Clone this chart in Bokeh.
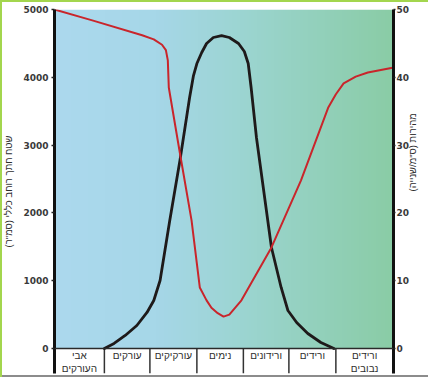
import numpy as np
from math import pi
from bokeh.plotting import figure
from bokeh.models import Range1d, LinearAxis, FixedTicker, Span
from bokeh.core.properties import value
from bokeh.embed import file_html
from bokeh.resources import INLINE

# ---- data ----
categories = ["אבי\nהעורקים", "עורקים", "עורקיקים", "נימים", "ורידונים", "ורידים", "ורידים\nנבובים"]
# category cell edges along the vessel path
cat_edges = [0.0, 1.03, 1.97, 2.94, 3.90, 4.84, 5.81, 7.0]

# flow velocity (cm/s) - red curve, right axis
vel_x = [0.00, 0.78, 1.81, 2.05, 2.22, 2.30, 2.34, 2.36, 2.59, 2.83, 3.00, 3.14, 3.24, 3.37,
         3.49, 3.61, 3.86, 4.48, 5.09, 5.65, 5.81, 5.97, 6.22, 6.47, 6.98]
vel_y = [50.0, 48.4, 46.2, 45.6, 44.8, 44.0, 42.5, 38.5, 28.8, 18.9, 9.0, 7.1, 6.0, 5.2,
         4.7, 5.0, 7.1, 14.9, 24.8, 35.5, 37.5, 39.1, 40.1, 40.7, 41.4]

# total cross-sectional area (cm^2) - black curve, left axis
area_x = [1.03, 1.23, 1.46, 1.70, 1.91, 2.05, 2.18, 2.38, 2.59, 2.79, 2.87, 2.94, 3.04, 3.14,
          3.28, 3.45, 3.61, 3.80, 3.92, 4.00, 4.06, 4.17, 4.48, 4.68, 4.82, 5.00, 5.23, 5.50, 5.77]
area_y = [0, 74, 192, 339, 531, 708, 1003, 1888, 2773, 3702, 4026, 4203, 4366, 4498,
          4587, 4616, 4587, 4498, 4380, 4203, 3850, 3112, 1490, 900, 560, 383, 221, 88, 0]

area_ticks = [0, 1000, 2000, 3000, 4000, 5000]
vel_ticks = [0, 10, 20, 30, 40, 50]
area_title = "שטח חתך רוחב כללי (סמ\"ר)"
vel_title = "מהירות (ס\"מ/שנייה)"

# ---- figure ----
AREA_MIN = -369
p = figure(width=428, height=377, output_backend="svg", toolbar_location=None,
           x_range=Range1d(0, 7), y_range=Range1d(AREA_MIN, 5000),
           x_axis_location=None, y_axis_location=None,
           min_border_left=52, min_border_right=35, min_border_top=9, min_border_bottom=4)
p.extra_y_ranges = {"vel": Range1d(AREA_MIN / 100.0, 50)}
p.xgrid.visible = False
p.ygrid.visible = False
p.outline_line_color = None
p.border_fill_color = None
p.background_fill_color = None
p.styles = {"background-color": "white",
            "box-shadow": "inset 2px 2px 0 #a3d64e, inset 0 -2px 0 #8c8c8c"}

# gradient background (style only)
N = 200
img = np.zeros((1, N), dtype=np.uint32)
view = img.view(dtype=np.uint8).reshape((1, N, 4))
t = np.linspace(0, 1, N)
stops = [0.0, 0.3, 0.55, 1.0]
rs = [172, 166, 156, 138]
gs = [217, 215, 213, 204]
bs = [238, 232, 210, 166]
view[0, :, 0] = np.interp(t, stops, rs).astype(np.uint8)
view[0, :, 1] = np.interp(t, stops, gs).astype(np.uint8)
view[0, :, 2] = np.interp(t, stops, bs).astype(np.uint8)
view[0, :, 3] = 255
p.image_rgba(image=[img], x=0, y=0, dw=7, dh=5000)

# baseline and category dividers
p.add_layout(Span(location=0, dimension="width", line_color="#2a2a2a", line_width=1.5))
p.segment(x0=cat_edges[1:-1], y0=[AREA_MIN] * (len(cat_edges) - 2),
          x1=cat_edges[1:-1], y1=[0] * (len(cat_edges) - 2),
          line_color="#333333", line_width=1.5)

centers = [(a + b) / 2 for a, b in zip(cat_edges[:-1], cat_edges[1:])]
p.text(x=centers, y=[-25] * len(categories), text=categories,
       text_font=value("Liberation Sans"), text_font_size="10px",
       text_align="center", text_baseline="top", text_color="#2e2e2e")

# curves
p.line(area_x, area_y, line_color="#1e1a1a", line_width=2.8, line_join="round", line_cap="round")
p.line(vel_x, vel_y, line_color="#c9252b", line_width=2.0, line_join="round", line_cap="round",
       y_range_name="vel")

# axes
def style_axis(ax, ticks):
    ax.ticker = FixedTicker(ticks=ticks)
    ax.axis_line_width = 3
    ax.axis_line_color = "#111111"
    ax.major_tick_line_color = "#222222"
    ax.major_tick_line_width = 1.5
    ax.major_tick_in = 0
    ax.major_tick_out = 3
    ax.minor_tick_line_color = None
    ax.major_label_text_font = "DejaVu Sans"
    ax.major_label_text_font_style = "bold"
    ax.major_label_text_font_size = "9px"
    ax.major_label_text_color = "#3a3a3a"
    ax.major_label_standoff = 3
    ax.axis_label_text_font = "Liberation Sans"
    ax.axis_label_text_font_style = "normal"
    ax.axis_label_text_font_size = "9.5px"
    ax.axis_label_text_color = "#2e2e2e"

left = LinearAxis(axis_label=area_title)
style_axis(left, area_ticks)
left.axis_label_standoff = 6
p.add_layout(left, "left")

right = LinearAxis(y_range_name="vel", axis_label=vel_title)
style_axis(right, vel_ticks)
right.major_tick_out = 2
right.major_label_standoff = 1
right.axis_label_standoff = 0
try:
    right.axis_label_orientation = pi / 2
except Exception:
    pass
p.add_layout(right, "right")

open("out.html", "w").write(file_html(p, INLINE))
